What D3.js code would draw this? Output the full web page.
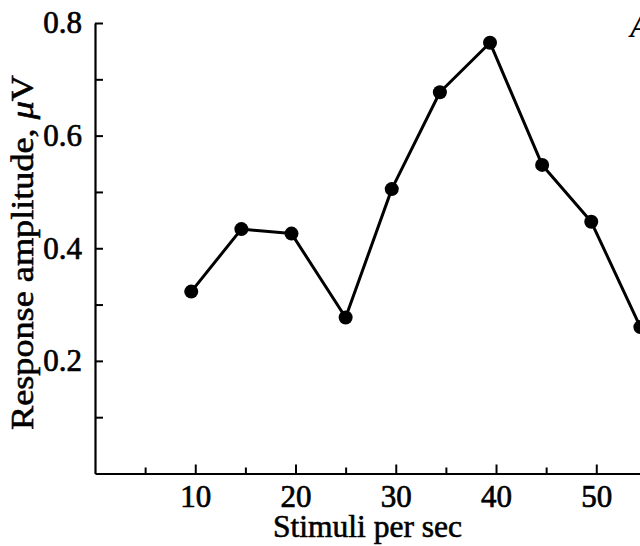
<!DOCTYPE html>
<html>
<head>
<meta charset="utf-8">
<script src="https://cdn.jsdelivr.net/npm/d3@7"></script>
<style>
  html, body { margin: 0; padding: 0; background: #fff; overflow: hidden; }
  svg { display: block; }
</style>
</head>
<body>
<svg id="chart" width="640" height="546"></svg>
<script>
// Data
const stimuliPerSec = [9.6, 14.6, 19.6, 25.0, 29.6, 34.4, 39.4, 44.6, 49.5, 54.4];
const amplitudeUV   = [0.323, 0.434, 0.426, 0.277, 0.505, 0.677, 0.765, 0.548, 0.447, 0.26];
const xMajorTicks = [10, 20, 30, 40, 50];
const xMinorTicks = [5, 15, 25, 35, 45];
const yMajorTicks = [0.2, 0.4, 0.6, 0.8];
const yMinorTicks = [0.1, 0.3, 0.5, 0.7];
const xTitle = "Stimuli per sec";
const panelLetter = "A";

const FONT = '"Liberation Serif", "DejaVu Serif", serif';
const svg = d3.select("#chart");

const x = d3.scaleLinear().domain([0, 55]).range([95, 646.4]);
const y = d3.scaleLinear().domain([0, 0.8]).range([473.5, 23]);

// X axis (ticks pointing inward / upward)
const gx = svg.append("g").attr("transform", `translate(0,${y(0)})`);
gx.call(d3.axisBottom(x).tickValues(xMajorTicks).tickSizeInner(-9).tickSizeOuter(0).tickPadding(11).tickFormat(d3.format("d")));
const gxm = svg.append("g").attr("transform", `translate(0,${y(0)})`);
gxm.call(d3.axisBottom(x).tickValues(xMinorTicks).tickSizeInner(-6).tickSizeOuter(0).tickFormat(""));
gxm.select(".domain").remove();

// Y axis (ticks pointing inward / right)
const gy = svg.append("g").attr("transform", `translate(${x(0)},0)`);
gy.call(d3.axisLeft(y).tickValues(yMajorTicks).tickSizeInner(-8).tickSizeOuter(0).tickPadding(13).tickFormat(d3.format(".1f")));
const gym = svg.append("g").attr("transform", `translate(${x(0)},0)`);
gym.call(d3.axisLeft(y).tickValues(yMinorTicks).tickSizeInner(-8).tickSizeOuter(0).tickFormat(""));
gym.select(".domain").remove();

svg.selectAll(".domain").attr("stroke", "#000").attr("stroke-width", 2.2);
svg.selectAll(".tick line").attr("stroke", "#000").attr("stroke-width", 2);
svg.selectAll(".tick text")
  .attr("font-family", FONT)
  .attr("font-size", 31)
  .attr("fill", "#000")
  .attr("stroke", "#000").attr("stroke-width", 0.7);
gx.selectAll(".tick text").attr("dy", "0.71em");

// Axis titles
svg.append("text")
  .attr("x", 273).attr("y", 537)
  .attr("font-family", FONT)
  .attr("font-size", 31)
  .attr("textLength", 189).attr("lengthAdjust", "spacingAndGlyphs")
  .attr("stroke", "#000").attr("stroke-width", 0.6)
  .text(xTitle);

const yt = svg.append("text")
  .attr("transform", "translate(33,430) rotate(-90)")
  .attr("font-family", FONT)
  .attr("font-size", 31)
  .attr("textLength", 355).attr("lengthAdjust", "spacingAndGlyphs")
  .attr("stroke", "#000").attr("stroke-width", 0.6);
yt.append("tspan").text("Response amplitude, ");
yt.append("tspan").attr("font-style", "italic").text("\u03bc");
yt.append("tspan").text("V");

// Panel letter (partly cut off at the right edge)
svg.append("text")
  .attr("x", 630).attr("y", 37)
  .attr("font-family", FONT)
  .attr("font-size", 31).attr("font-style", "italic").attr("font-weight", "bold")
  .text(panelLetter);

// Line and markers
const pts = stimuliPerSec.map((s, i) => [s, amplitudeUV[i]]);
svg.append("path")
  .datum(pts)
  .attr("fill", "none")
  .attr("stroke", "#000")
  .attr("stroke-width", 3)
  .attr("stroke-linejoin", "round")
  .attr("d", d3.line().x(d => x(d[0])).y(d => y(d[1])));

svg.selectAll("circle.pt")
  .data(pts)
  .join("circle")
  .attr("class", "pt")
  .attr("cx", d => x(d[0]))
  .attr("cy", d => y(d[1]))
  .attr("r", 7)
  .attr("fill", "#000");
</script>
</body>
</html>
